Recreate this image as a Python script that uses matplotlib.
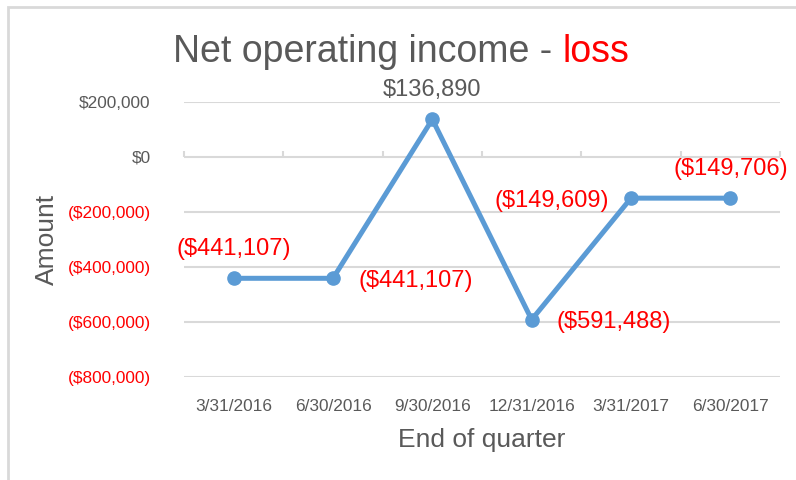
import matplotlib
matplotlib.use('Agg')
import matplotlib.pyplot as plt
from matplotlib.patches import Rectangle
from matplotlib import font_manager

# Data
quarters = ['3/31/2016', '6/30/2016', '9/30/2016', '12/31/2016', '3/31/2017', '6/30/2017']
net_income = [-441107, -441107, 136890, -591488, -149609, -149706]
y_ticks = [200000, 0, -200000, -400000, -600000, -800000]
# where each data label sits relative to its point
label_pos = ['above', 'right', 'above', 'right', 'left', 'above']

GRAY = '#595959'
RED = '#ff0000'
BLUE = '#5b9bd5'
GRID = '#d9d9d9'

plt.rcParams['font.family'] = ['Liberation Sans', 'DejaVu Sans']
names = {f.name for f in font_manager.fontManager.ttflist}
tick_font = 'Liberation Sans Narrow' if 'Liberation Sans Narrow' in names else 'Liberation Sans'
tick_size = 15 if tick_font == 'Liberation Sans Narrow' else 12.4


def money(v):
    if v < 0:
        return '(${:,.0f})'.format(-v)
    return '${:,.0f}'.format(v)


fig = plt.figure(figsize=(7.96, 4.8), dpi=100)
ax = fig.add_axes([184 / 796, 1 - 377 / 480, 596 / 796, 275 / 480])

x = list(range(len(quarters)))
ax.plot(x, net_income, color=BLUE, linewidth=3.6, marker='o', markersize=9.5,
        solid_capstyle='round', zorder=3)

ax.set_xlim(-0.5, len(quarters) - 0.5)
ax.set_ylim(-800000, 200000)
ax.set_yticks(y_ticks)
ax.set_yticklabels([money(v) for v in y_ticks], fontsize=tick_size, family=tick_font)
for lbl, v in zip(ax.get_yticklabels(), y_ticks):
    lbl.set_color(RED if v < 0 else GRAY)
ax.set_xticks(x)
ax.set_xticklabels(quarters, fontsize=tick_size, family=tick_font, color=GRAY)
ax.tick_params(axis='both', length=0)
ax.tick_params(axis='y', pad=24)
ax.tick_params(axis='x', pad=16)

for s in ax.spines.values():
    s.set_visible(False)
ax.grid(axis='y', color=GRID, linewidth=1.5)
ax.set_axisbelow(True)

# category axis crossing at $0 with tick marks between categories
sec = ax.secondary_xaxis(0.8)
sec.set_xticks([i - 0.5 for i in range(len(quarters) + 1)])
sec.set_xticklabels([])
sec.tick_params(length=4, width=1.5, color=GRID, direction='out')
sec.spines['bottom'].set_color(GRID)
sec.spines['bottom'].set_linewidth(1.5)
for k in ('top', 'left', 'right'):
    if k in sec.spines:
        sec.spines[k].set_visible(False)

ax.set_xlabel('End of quarter', fontsize=19, color=GRAY, labelpad=10)
ax.set_ylabel('Amount', fontsize=19, color=GRAY, labelpad=6)

# data labels
for xi, v, pos in zip(x, net_income, label_pos):
    c = RED if v < 0 else GRAY
    if pos == 'above':
        off, ha, va = (0, 16.5), 'center', 'baseline'
    elif pos == 'right':
        off, ha, va = (18, 0), 'left', 'center_baseline'
    else:
        off, ha, va = (-16, 0), 'right', 'center_baseline'
    ax.annotate(money(v), (xi, v), xytext=off, textcoords='offset points',
                ha=ha, va=va, fontsize=17, color=c)

# title in two colours
t1 = fig.text(173 / 796, 1 - 62 / 480, 'Net operating income - ', fontsize=27,
              color=GRAY, ha='left', va='baseline')
ax.annotate('loss', xy=(1, 0), xycoords=t1, xytext=(0, 0), textcoords='offset points',
            fontsize=27, color=RED, ha='left', va='bottom', annotation_clip=False)

# chart border (continues past the right and bottom edges)
fig.add_artist(Rectangle((8 / 796, -0.1), 1.2, 1.1 - 7 / 480, transform=fig.transFigure,
                         fill=False, edgecolor=GRID, linewidth=2))

fig.savefig('out.png', dpi=100)
